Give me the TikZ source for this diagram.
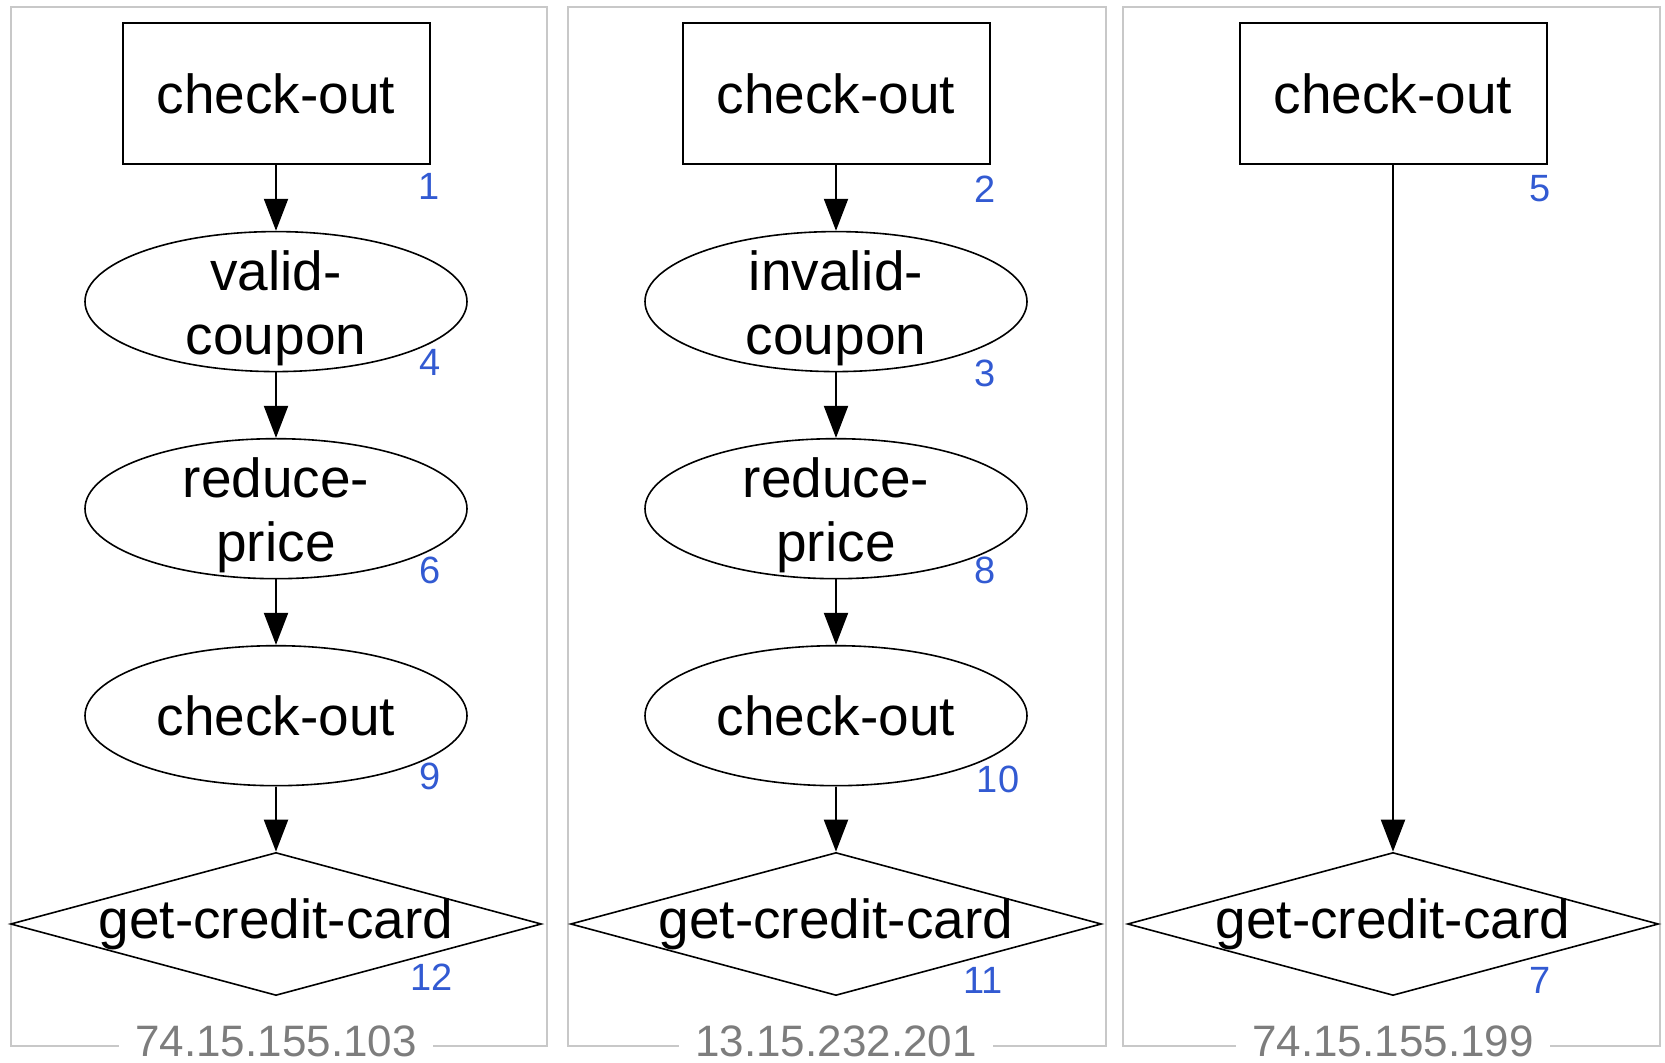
\documentclass[tikz,border=0pt]{standalone}
\usepackage{fontspec}
\setmainfont{Liberation Sans}
\usetikzlibrary{shapes.geometric,arrows.meta,calc}
\definecolor{numblue}{RGB}{50,90,210}
\definecolor{ipgray}{RGB}{125,125,125}
\definecolor{framegray}{RGB}{200,200,200}
\begin{document}
\begin{tikzpicture}[x=0.5pt,y=-0.5pt,
  every node/.style={font=\fontsize{27.5}{32}\selectfont},
  rectbox/.style={draw=black,line width=1pt,rectangle,minimum width=153.5pt,minimum height=70.5pt,inner sep=0pt},
  ellbox/.style={draw=black,line width=0.8pt,ellipse,minimum width=191pt,minimum height=70pt,inner sep=0pt},
  elltext/.style={inner sep=0pt,align=center},
  diabox/.style={draw=black,line width=0.8pt,diamond,aspect=3.7,minimum width=265.5pt,minimum height=71.5pt,inner sep=0pt},
  diatext/.style={inner sep=0pt},
  num/.style={text=numblue,font=\fontsize{19}{22}\selectfont,inner sep=0pt},
  iplabel/.style={text=ipgray,font=\fontsize{22}{26}\selectfont,fill=white,inner xsep=8pt,inner ysep=0pt},
  frame/.style={draw=framegray,line width=1pt},
  arr/.style={line width=1pt,-{Triangle[length=16pt,width=12pt]}}
]
\useasboundingbox (0,0) rectangle (1665,1063);

% frames
\draw[frame] (10.6,7.4) rectangle (547,1046);
\draw[frame] (568,7.4) rectangle (1106,1046);
\draw[frame] (1123,7.4) rectangle (1660,1046);
\node[iplabel] (ip1) at (276,1041) {74.15.155.103};
\node[iplabel] (ip2) at (836,1041) {13.15.232.201};
\node[iplabel] (ip3) at (1393,1041) {74.15.155.199};

% panel 1
\node[rectbox] (a1) at (276,94) {check-out};
\node[ellbox] (a2) at (276,301.6) {};
\node[elltext] (a2t) at (276,308) {valid-\\coupon};
\node[ellbox] (a3) at (276,508.7) {};
\node[elltext] (a3t) at (276,515) {reduce-\\price};
\node[ellbox] (a4) at (276,715.7) {check-out};
\node[diabox] (a5) at (276,924) {};
\node[diatext] (a5t) at (276,924) {get-credit-card};
\draw[arr] (a1) -- (a2);
\draw[arr] (a2) -- (a3);
\draw[arr] (a3) -- (a4);
\draw[arr] (a4) -- (a5.north);
\node[num] (n1) at (429,186) {1};
\node[num] (n4) at (430,362) {4};
\node[num] (n6) at (430,570) {6};
\node[num] (n9) at (430,776) {9};
\node[num] (n12) at (432,977) {12};

% panel 2
\node[rectbox] (b1) at (836,94) {check-out};
\node[ellbox] (b2) at (836,301.6) {};
\node[elltext] (b2t) at (836,308) {invalid-\\coupon};
\node[ellbox] (b3) at (836,508.7) {};
\node[elltext] (b3t) at (836,515) {reduce-\\price};
\node[ellbox] (b4) at (836,715.7) {check-out};
\node[diabox] (b5) at (836,924) {};
\node[diatext] (b5t) at (836,924) {get-credit-card};
\draw[arr] (b1) -- (b2);
\draw[arr] (b2) -- (b3);
\draw[arr] (b3) -- (b4);
\draw[arr] (b4) -- (b5.north);
\node[num] (n2) at (985,189) {2};
\node[num] (n3) at (985,373) {3};
\node[num] (n8) at (985,570) {8};
\node[num] (n10) at (998,779) {10};
\node[num] (n11) at (983,980) {11};

% panel 3
\node[rectbox] (c1) at (1393,94) {check-out};
\node[diabox] (c5) at (1393,924) {};
\node[diatext] (c5t) at (1393,924) {get-credit-card};
\draw[arr] (c1) -- (c5.north);
\node[num] (n5) at (1540,189) {5};
\node[num] (n7) at (1540,980) {7};
\end{tikzpicture}
\end{document}
